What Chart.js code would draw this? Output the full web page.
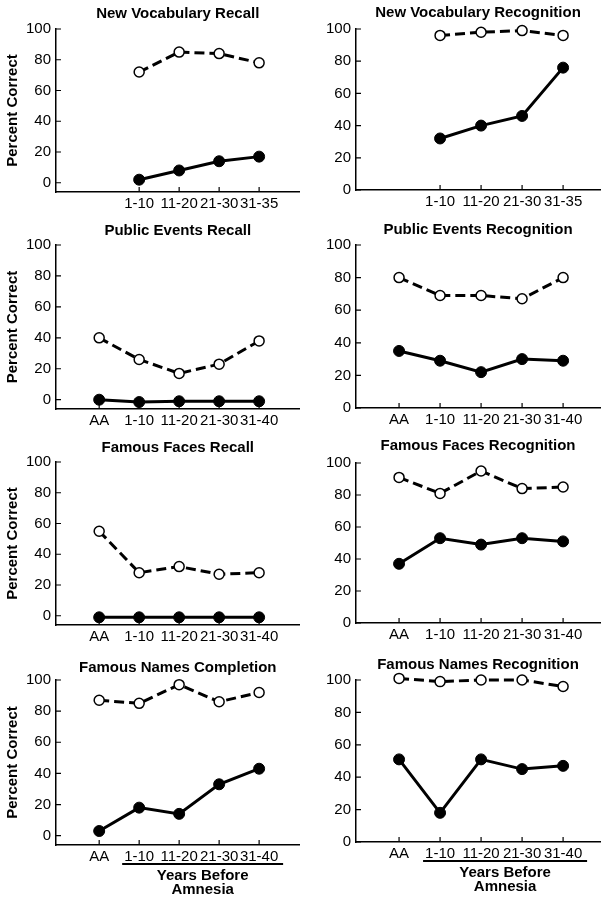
<!DOCTYPE html>
<html>
<head>
<meta charset="utf-8">
<script src="https://cdn.jsdelivr.net/npm/chart.js@4.4.1/dist/chart.umd.min.js"></script>
<style>
  body { margin: 0; background: #fff; }
  #wrap { position: relative; width: 612px; height: 900px; }
  #wrap canvas { position: absolute; }
</style>
</head>
<body>
<div id="wrap"></div>
<script>
// x categories (the vocabulary tests have no AA point)
const vocabLabels = ['', '1-10', '11-20', '21-30', '31-35'];
const retroLabels = ['AA', '1-10', '11-20', '21-30', '31-40'];
const yTicks = [0, 20, 40, 60, 80, 100];

// control = open circles / dashed, patient = filled circles / solid
const vocabRecallControl = [null, 72, 85, 84, 78];
const vocabRecallPatient = [null, 2, 8, 14, 17];
const vocabRecogControl = [null, 96, 98, 99, 96];
const vocabRecogPatient = [null, 32, 40, 46, 76];
const eventsRecallControl = [40, 26, 17, 23, 38];
const eventsRecallPatient = [0, -1.5, -1, -1, -1];
const eventsRecogControl = [80, 69, 69, 67, 80];
const eventsRecogPatient = [35, 29, 22, 30, 29];
const facesRecallControl = [55, 28, 32, 27, 28];
const facesRecallPatient = [-1, -1, -1, -1, -1];
const facesRecogControl = [91, 81, 95, 84, 85];
const facesRecogPatient = [37, 53, 49, 53, 51];
const namesComplControl = [87, 85, 97, 86, 92];
const namesComplPatient = [3, 18, 14, 33, 43];
const namesRecogControl = [101, 99, 100, 100, 96];
const namesRecogPatient = [51, 18, 51, 45, 47];

const FONT = "'Liberation Sans', Arial, Helvetica, sans-serif";

const panels = [
  { title: 'New Vocabulary Recall', labels: vocabLabels, control: vocabRecallControl, patient: vocabRecallPatient },
  { title: 'New Vocabulary Recognition', labels: vocabLabels, control: vocabRecogControl, patient: vocabRecogPatient },
  { title: 'Public Events Recall', labels: retroLabels, control: eventsRecallControl, patient: eventsRecallPatient },
  { title: 'Public Events Recognition', labels: retroLabels, control: eventsRecogControl, patient: eventsRecogPatient },
  { title: 'Famous Faces Recall', labels: retroLabels, control: facesRecallControl, patient: facesRecallPatient },
  { title: 'Famous Faces Recognition', labels: retroLabels, control: facesRecogControl, patient: facesRecogPatient },
  { title: 'Famous Names Completion', labels: retroLabels, control: namesComplControl, patient: namesComplPatient, footer: true },
  { title: 'Famous Names Recognition', labels: retroLabels, control: namesRecogControl, patient: namesRecogPatient, footer: true },
];

// page layout: canvas rows, and per panel title centre / plot top / plot bottom
const rows = [[0, 210], [210, 220], [430, 220], [650, 250]];
const geom = [
  [14, 29, 192], [13, 29, 190],
  [231, 245, 409], [230, 245, 408],
  [448, 462, 625], [446, 463, 623],
  [668, 680, 845], [665, 680, 842],
];
const sides = {
  left: { x: 0, areaLeft: 56, areaRight: 304, xMin: -1.08, xMax: 5.01, yMin: -6 },
  right: { x: 306, areaLeft: 356, areaRight: 600, xMin: -1.05, xMax: 4.9, yMin: 0 },
};

const axisMarks = {
  id: 'axisMarks',
  beforeDatasetsDraw(chart, args, opts) {
    const { ctx, chartArea, scales } = chart;
    ctx.save();
    ctx.strokeStyle = '#000';
    ctx.lineWidth = 1.2;
    ctx.beginPath();
    scales.x.ticks.forEach(t => {
      const px = scales.x.getPixelForValue(t.value);
      ctx.moveTo(px, chartArea.bottom);
      ctx.lineTo(px, chartArea.bottom - 5);
    });
    scales.y.ticks.forEach(t => {
      const py = scales.y.getPixelForValue(t.value);
      ctx.moveTo(chartArea.left, py);
      ctx.lineTo(chartArea.left + 5, py);
    });
    ctx.stroke();
    if (opts.footer) {
      const x0 = scales.x.getPixelForValue(1) - 17;
      const x1 = scales.x.getPixelForValue(4) + 24;
      const b = chartArea.bottom;
      ctx.lineWidth = 2;
      ctx.beginPath();
      ctx.moveTo(x0, b + 19);
      ctx.lineTo(x1, b + 19);
      ctx.stroke();
      ctx.fillStyle = '#000';
      ctx.font = 'bold 15px ' + FONT;
      ctx.textAlign = 'center';
      ctx.textBaseline = 'middle';
      const cx = (x0 + x1) / 2;
      ctx.fillText('Years Before', cx, b + 31);
      ctx.fillText('Amnesia', cx, b + 45);
    }
    ctx.restore();
  }
};

const pts = arr => arr.map((v, i) => ({ x: i, y: v })).filter(p => p.y !== null);

panels.forEach((p, k) => {
  const side = k % 2 === 0 ? sides.left : sides.right;
  const [rowTop, rowH] = rows[Math.floor(k / 2)];
  const [titleY, areaTop, areaBottom] = geom[k];
  const canvas = document.createElement('canvas');
  canvas.width = 306;
  canvas.height = rowH;
  canvas.style.left = side.x + 'px';
  canvas.style.top = rowTop + 'px';
  document.getElementById('wrap').appendChild(canvas);

  const labels = p.labels;
  const xHeight = 30;

  new Chart(canvas, {
    type: 'line',
    data: {
      datasets: [
        {
          data: pts(p.patient),
          borderColor: '#000',
          borderWidth: 3,
          pointRadius: 5.5,
          pointBackgroundColor: '#000',
          pointBorderColor: '#000',
          pointBorderWidth: 1,
          tension: 0,
          clip: false,
        },
        {
          data: pts(p.control),
          borderColor: '#000',
          borderWidth: 3,
          borderDash: [10, 5],
          pointRadius: 5,
          pointBackgroundColor: '#fff',
          pointBorderColor: '#000',
          pointBorderWidth: 1.5,
          tension: 0,
          clip: false,
        },
      ],
    },
    options: {
      responsive: false,
      animation: false,
      events: [],
      layout: {
        padding: {
          top: titleY - 9 - rowTop,
          bottom: rowH - xHeight - (areaBottom - rowTop),
          left: 0,
          right: 306 - (side.areaRight - side.x),
        },
      },
      plugins: {
        legend: { display: false },
        tooltip: { enabled: false },
        title: {
          display: true,
          fullSize: false,
          text: p.title,
          color: '#000',
          font: { family: FONT, size: 15, weight: 'bold', lineHeight: 1.2 },
          padding: { top: 0, bottom: areaTop - (titleY + 9) },
        },
        axisMarks: { footer: !!p.footer },
      },
      scales: {
        x: {
          type: 'linear',
          min: side.xMin,
          max: side.xMax,
          afterBuildTicks: s => { s.ticks = labels.map((l, i) => ({ value: i })).filter(t => labels[t.value] !== ''); },
          afterFit: s => { s.height = xHeight; },
          grid: { display: false, drawTicks: false },
          border: { color: '#000', width: 1.5 },
          ticks: {
            callback: v => labels[v],
            color: '#000',
            font: { family: FONT, size: 15 },
            padding: 3,
            maxRotation: 0,
            autoSkip: false,
          },
        },
        y: {
          min: side.yMin,
          max: 100,
          afterBuildTicks: s => { s.ticks = yTicks.map(v => ({ value: v })); },
          afterFit: s => { s.width = side.areaLeft - side.x; },
          grid: { display: false, drawTicks: false },
          border: { color: '#000', width: 1.5 },
          ticks: {
            color: '#000',
            font: { family: FONT, size: 15 },
            padding: 5,
          },
          title: {
            display: k % 2 === 0,
            text: 'Percent Correct',
            color: '#000',
            font: { family: FONT, size: 15, weight: 'bold' },
            padding: { top: 4, bottom: 0 },
          },
        },
      },
    },
    plugins: [axisMarks],
  });
});
</script>
</body>
</html>
